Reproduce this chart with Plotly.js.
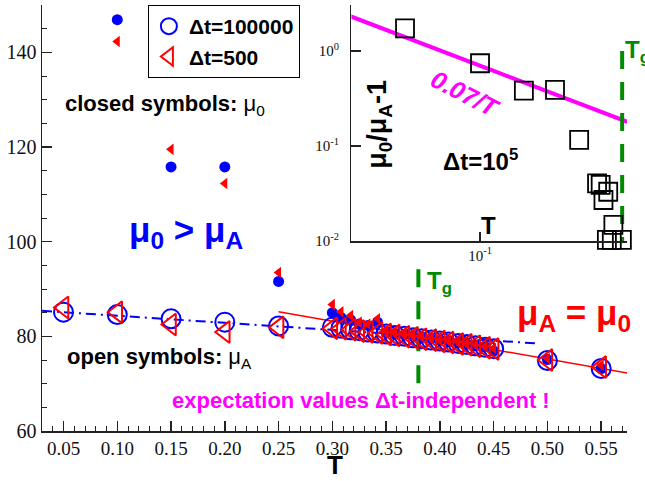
<!DOCTYPE html>
<html>
<head>
<meta charset="utf-8">
<script src="https://cdn.plot.ly/plotly-3.0.1.min.js"></script>
<style>html,body{margin:0;padding:0;background:#fff;}</style>
</head>
<body>
<div id="chart" style="width:645px;height:481px;"></div>
<script>
// ---- data ----
const T_OPEN = [0.05, 0.10, 0.15, 0.20, 0.25,
  0.300, 0.308, 0.317, 0.325, 0.333, 0.342, 0.350, 0.358, 0.367, 0.375,
  0.383, 0.392, 0.400, 0.408, 0.417, 0.425, 0.433, 0.442, 0.450,
  0.50, 0.55];
const MU_A_DT100000 = [85.1, 84.6, 83.7, 83.0, 82.2,
  81.9, 81.7, 81.4, 81.2, 80.9, 80.7, 80.5, 80.2, 80.0, 79.7,
  79.5, 79.2, 79.0, 78.8, 78.5, 78.3, 78.0, 77.7, 77.4,
  74.9, 73.2];
const MU_A_DT500 = [86.1, 85.1, 82.5, 80.9, 81.9,
  81.7, 81.6, 81.4, 81.1, 80.9, 80.7, 80.4, 80.2, 79.9, 79.7,
  79.4, 79.2, 78.9, 78.7, 78.4, 78.2, 77.9, 77.6, 77.3,
  75.0, 73.5];

const T_CLOSED = [0.10, 0.15, 0.20, 0.25,
  0.300, 0.308, 0.317, 0.325, 0.333, 0.342, 0.350, 0.358, 0.367, 0.375,
  0.383, 0.392, 0.400, 0.408, 0.417, 0.425, 0.433, 0.442, 0.450,
  0.50, 0.55];
const MU_0_DT100000 = [146.9, 115.8, 115.8, 91.6,
  85.0, 84.0, 83.5, 82.6, 82.3, 83.0, 80.8, 80.5, 80.3, 80.0,
  79.8, 79.5, 79.2, 79.0, 78.7, 78.4, 78.1, 77.8, 76.9,
  75.1, 73.2];
const MU_0_DT500 = [142.3, 119.5, 112.3, 93.5,
  86.7, 85.2, 84.4, 83.0, 82.6, 83.7, 81.0, 80.7, 80.4, 80.2,
  79.9, 79.6, 79.3, 79.1, 78.8, 78.5, 78.2, 77.9, 77.5,
  75.3, 73.9];

// fit / guide lines of the main panel
const FIT_BLUE_T = [0.03, 0.49];
const FIT_BLUE_MU = [85.4, 78.5];
const FIT_RED_T = [0.25, 0.575];
const FIT_RED_MU = [85.2, 72.2];
const TG_T = [0.38, 0.38];
const TG_MU = [70.1, 94.3];

// inset: mu0/muA - 1 for dt = 1e5
const INSET_T = [0.05, 0.10, 0.15, 0.20, 0.25, 0.295, 0.305, 0.313, 0.327, 0.343, 0.323, 0.338, 0.371];
const INSET_RATIO = [1.73, 0.743, 0.382, 0.389, 0.116, 0.0405, 0.0389, 0.027, 0.033, 0.0148, 0.0103, 0.0103, 0.0103];
const POWER_T = [0.03, 0.39];
const POWER_Y = [2.333, 0.1795];
const INSET_TG_T = [0.372, 0.372];
const INSET_TG_Y = [1.0, 0.0095];

// tick labels
const MAIN_X_TICKS = [0.05, 0.10, 0.15, 0.20, 0.25, 0.30, 0.35, 0.40, 0.45, 0.50, 0.55];
const MAIN_Y_TICKS = [60, 80, 100, 120, 140];
const INSET_X_TICKS = [0.1];
const INSET_X_TEXT = ['10<sup>-1</sup>'];
const INSET_X_MINOR = [0.04, 0.05, 0.06, 0.07, 0.08, 0.09, 0.2, 0.3];
const INSET_Y_TICKS = [0.01, 0.1, 1];
const INSET_Y_TEXT = ['10<sup>-2</sup>', '10<sup>-1</sup>', '10<sup>0</sup>'];
const INSET_Y_MINOR = [0.02,0.03,0.04,0.05,0.06,0.07,0.08,0.09,0.2,0.3,0.4,0.5,0.6,0.7,0.8,0.9,2,3];

// ---- styles ----
const BLUE = '#0000ff', RED = '#ff0000', MAG = '#ff00ff', GREEN = '#008b00', AX = '#222222';
const SANS = 'Liberation Sans, Arial, sans-serif';
const SERIF = 'Liberation Serif, Times New Roman, serif';

const traces = [
  {x: FIT_RED_T, y: FIT_RED_MU, mode: 'lines', line: {color: RED, width: 1.5}, showlegend: false, hoverinfo: 'skip'},
  {x: FIT_BLUE_T, y: FIT_BLUE_MU, mode: 'lines', line: {color: BLUE, width: 2, dash: '10px,5px,2px,5px'}, showlegend: false, hoverinfo: 'skip'},
  {x: TG_T, y: TG_MU, mode: 'lines', line: {color: GREEN, width: 4, dash: '18px,14px'}, showlegend: false, hoverinfo: 'skip'},
  {x: T_OPEN, y: MU_A_DT100000, mode: 'markers', name: 'Δt=100000',
   marker: {symbol: 'circle-open', size: 19, color: BLUE, line: {width: 2, color: BLUE}}},
  {x: T_CLOSED, y: MU_0_DT100000, mode: 'markers', showlegend: false,
   marker: {symbol: 'circle', size: 11, color: BLUE}},
  {x: T_OPEN, y: MU_A_DT500, mode: 'markers', name: 'Δt=500',
   marker: {symbol: 'triangle-left-open', size: 19, color: RED, line: {width: 2, color: RED}}},
  {x: T_CLOSED, y: MU_0_DT500, mode: 'markers', showlegend: false,
   marker: {symbol: 'triangle-left', size: 10, color: RED}},
  // inset
  {x: POWER_T, y: POWER_Y, xaxis: 'x2', yaxis: 'y2', mode: 'lines', line: {color: MAG, width: 4}, showlegend: false, hoverinfo: 'skip'},
  {x: INSET_TG_T, y: INSET_TG_Y, xaxis: 'x2', yaxis: 'y2', mode: 'lines', line: {color: GREEN, width: 4, dash: '18px,13px'}, showlegend: false, hoverinfo: 'skip'},
  {x: INSET_T, y: INSET_RATIO, xaxis: 'x2', yaxis: 'y2', mode: 'markers', showlegend: false, cliponaxis: false,
   marker: {symbol: 'square-open', size: 18, color: '#000', line: {width: 1.8, color: '#000'}}}
];

const axBase = {showline: true, linecolor: AX, linewidth: 1.5, ticks: 'inside', tickcolor: AX, tickwidth: 1.5,
  showgrid: false, zeroline: false};

const INSET_XR = [-1.516, -0.41];
const INSET_YR = [-2, 0.484];

const layout = {
  width: 645, height: 481,
  margin: {l: 42, r: 18, t: 5, b: 50},
  paper_bgcolor: '#fff', plot_bgcolor: 'rgba(0,0,0,0)',
  showlegend: true,
  legend: {x: 0.181, y: 1.0, xanchor: 'left', yanchor: 'top', bgcolor: '#fff', bordercolor: '#000', borderwidth: 1,
    font: {family: SANS, size: 21, color: '#000', weight: 'bold'}, tracegroupgap: 0, itemwidth: 30},
  xaxis: Object.assign({}, axBase, {domain: [0, 1], anchor: 'y', range: [0.03, 0.574],
    tickmode: 'array', tickvals: MAIN_X_TICKS, tickformat: '.2f', ticklen: 10,
    minor: {dtick: 0.01, tick0: 0.05, ticks: 'inside', ticklen: 5, tickcolor: AX, tickwidth: 1},
    tickfont: {family: SERIF, size: 19, color: '#111'}}),
  yaxis: Object.assign({}, axBase, {domain: [0, 1], anchor: 'x', range: [60, 150],
    tickmode: 'array', tickvals: MAIN_Y_TICKS, ticklen: 10,
    minor: {dtick: 5, tick0: 60, ticks: 'inside', ticklen: 5, tickcolor: AX, tickwidth: 1},
    tickfont: {family: SERIF, size: 20, color: '#111'}}),
  xaxis2: Object.assign({}, axBase, {type: 'log', domain: [0.529, 1], anchor: 'y2', range: INSET_XR,
    tickmode: 'array', tickvals: INSET_X_TICKS, ticktext: INSET_X_TEXT, ticklen: 9,
    tickfont: {family: SERIF, size: 15, color: '#111'}}),
  yaxis2: Object.assign({}, axBase, {type: 'log', domain: [0.446, 1], anchor: 'x2', range: INSET_YR,
    tickmode: 'array', tickvals: INSET_Y_TICKS, ticktext: INSET_Y_TEXT, ticklen: 10,
    ticklabelstandoff: 8,
    tickfont: {family: SERIF, size: 15, color: '#111'}}),
  // minor ticks of the inset, as overlay axes
  xaxis3: {type: 'log', overlaying: 'x2', anchor: 'y2', side: 'bottom', range: INSET_XR,
    tickmode: 'array', tickvals: INSET_X_MINOR, ticks: 'inside', ticklen: 5, tickwidth: 1, tickcolor: AX,
    showticklabels: false, showline: false, showgrid: false, zeroline: false},
  yaxis3: {type: 'log', overlaying: 'y2', anchor: 'x2', side: 'left', range: INSET_YR,
    tickmode: 'array', tickvals: INSET_Y_MINOR, ticks: 'inside', ticklen: 5, tickwidth: 1, tickcolor: AX,
    showticklabels: false, showline: false, showgrid: false, zeroline: false},
  annotations: [
    // main x-axis title
    {xref: 'paper', yref: 'paper', x: 0.5, y: -0.0798, xanchor: 'center', yanchor: 'middle', showarrow: false, borderpad: 0,
     text: '<b>T</b>', font: {family: SANS, size: 26, color: '#000'}},
    {xref: 'x', yref: 'y', x: 0.0495, y: 128.9, xanchor: 'left', yanchor: 'middle', showarrow: false,
     text: '<b>closed symbols:</b> μ<sub>0</sub>', font: {family: SANS, size: 22, color: '#000'}},
    {xref: 'x', yref: 'y', x: 0.109, y: 102.0, xanchor: 'left', yanchor: 'middle', showarrow: false,
     text: '<b>μ<sub>0</sub> &gt; μ<sub>A</sub></b>', font: {family: SANS, size: 35, color: BLUE}},
    {xref: 'x', yref: 'y', x: 0.0514, y: 75.4, xanchor: 'left', yanchor: 'middle', showarrow: false,
     text: '<b>open symbols:</b> μ<sub>A</sub>', font: {family: SANS, size: 22, color: '#000'}},
    {xref: 'x', yref: 'y', x: 0.149, y: 66.5, xanchor: 'left', yanchor: 'middle', showarrow: false,
     text: '<b>expectation values Δt-independent !</b>', font: {family: SANS, size: 22, color: MAG}},
    {xref: 'x', yref: 'y', x: 0.4696, y: 84.5, xanchor: 'left', yanchor: 'middle', showarrow: false,
     text: '<b>μ<sub>A</sub> = μ<sub>0</sub></b>', font: {family: SANS, size: 35, color: RED}},
    {xref: 'x', yref: 'y', x: 0.386, y: 91.3, xanchor: 'left', yanchor: 'middle', showarrow: false,
     text: '<b>T<sub>g</sub></b>', font: {family: SANS, size: 24, color: GREEN}},
    // inset texts
    {xref: 'paper', yref: 'paper', x: 0.577, y: 0.72, xanchor: 'center', yanchor: 'middle', showarrow: false, textangle: -90,
     text: '<b>μ<sub>0</sub>/μ<sub>A</sub>-1</b>', font: {family: SANS, size: 27, color: '#000'}},
    {xref: 'paper', yref: 'paper', x: 0.749, y: 0.636, xanchor: 'center', yanchor: 'middle', showarrow: false,
     text: '<b>Δt=10<sup>5</sup></b>', font: {family: SANS, size: 24, color: '#000'}},
    {xref: 'paper', yref: 'paper', x: 0.764, y: 0.483, xanchor: 'center', yanchor: 'middle', showarrow: false,
     text: '<b>T</b>', font: {family: SANS, size: 24, color: '#000'}},
    {xref: 'paper', yref: 'paper', x: 0.725, y: 0.792, xanchor: 'center', yanchor: 'middle', showarrow: false, textangle: 27,
     text: '<b><i>0.07/T</i></b>', font: {family: SANS, size: 25, color: MAG}},
    {xref: 'paper', yref: 'paper', x: 0.993, y: 0.89, xanchor: 'left', yanchor: 'middle', showarrow: false,
     text: '<b>T<sub>g</sub></b>', font: {family: SANS, size: 24, color: GREEN}}
  ]
};

Plotly.newPlot('chart', traces, layout, {displayModeBar: false, staticPlot: true});
</script>
</body>
</html>
